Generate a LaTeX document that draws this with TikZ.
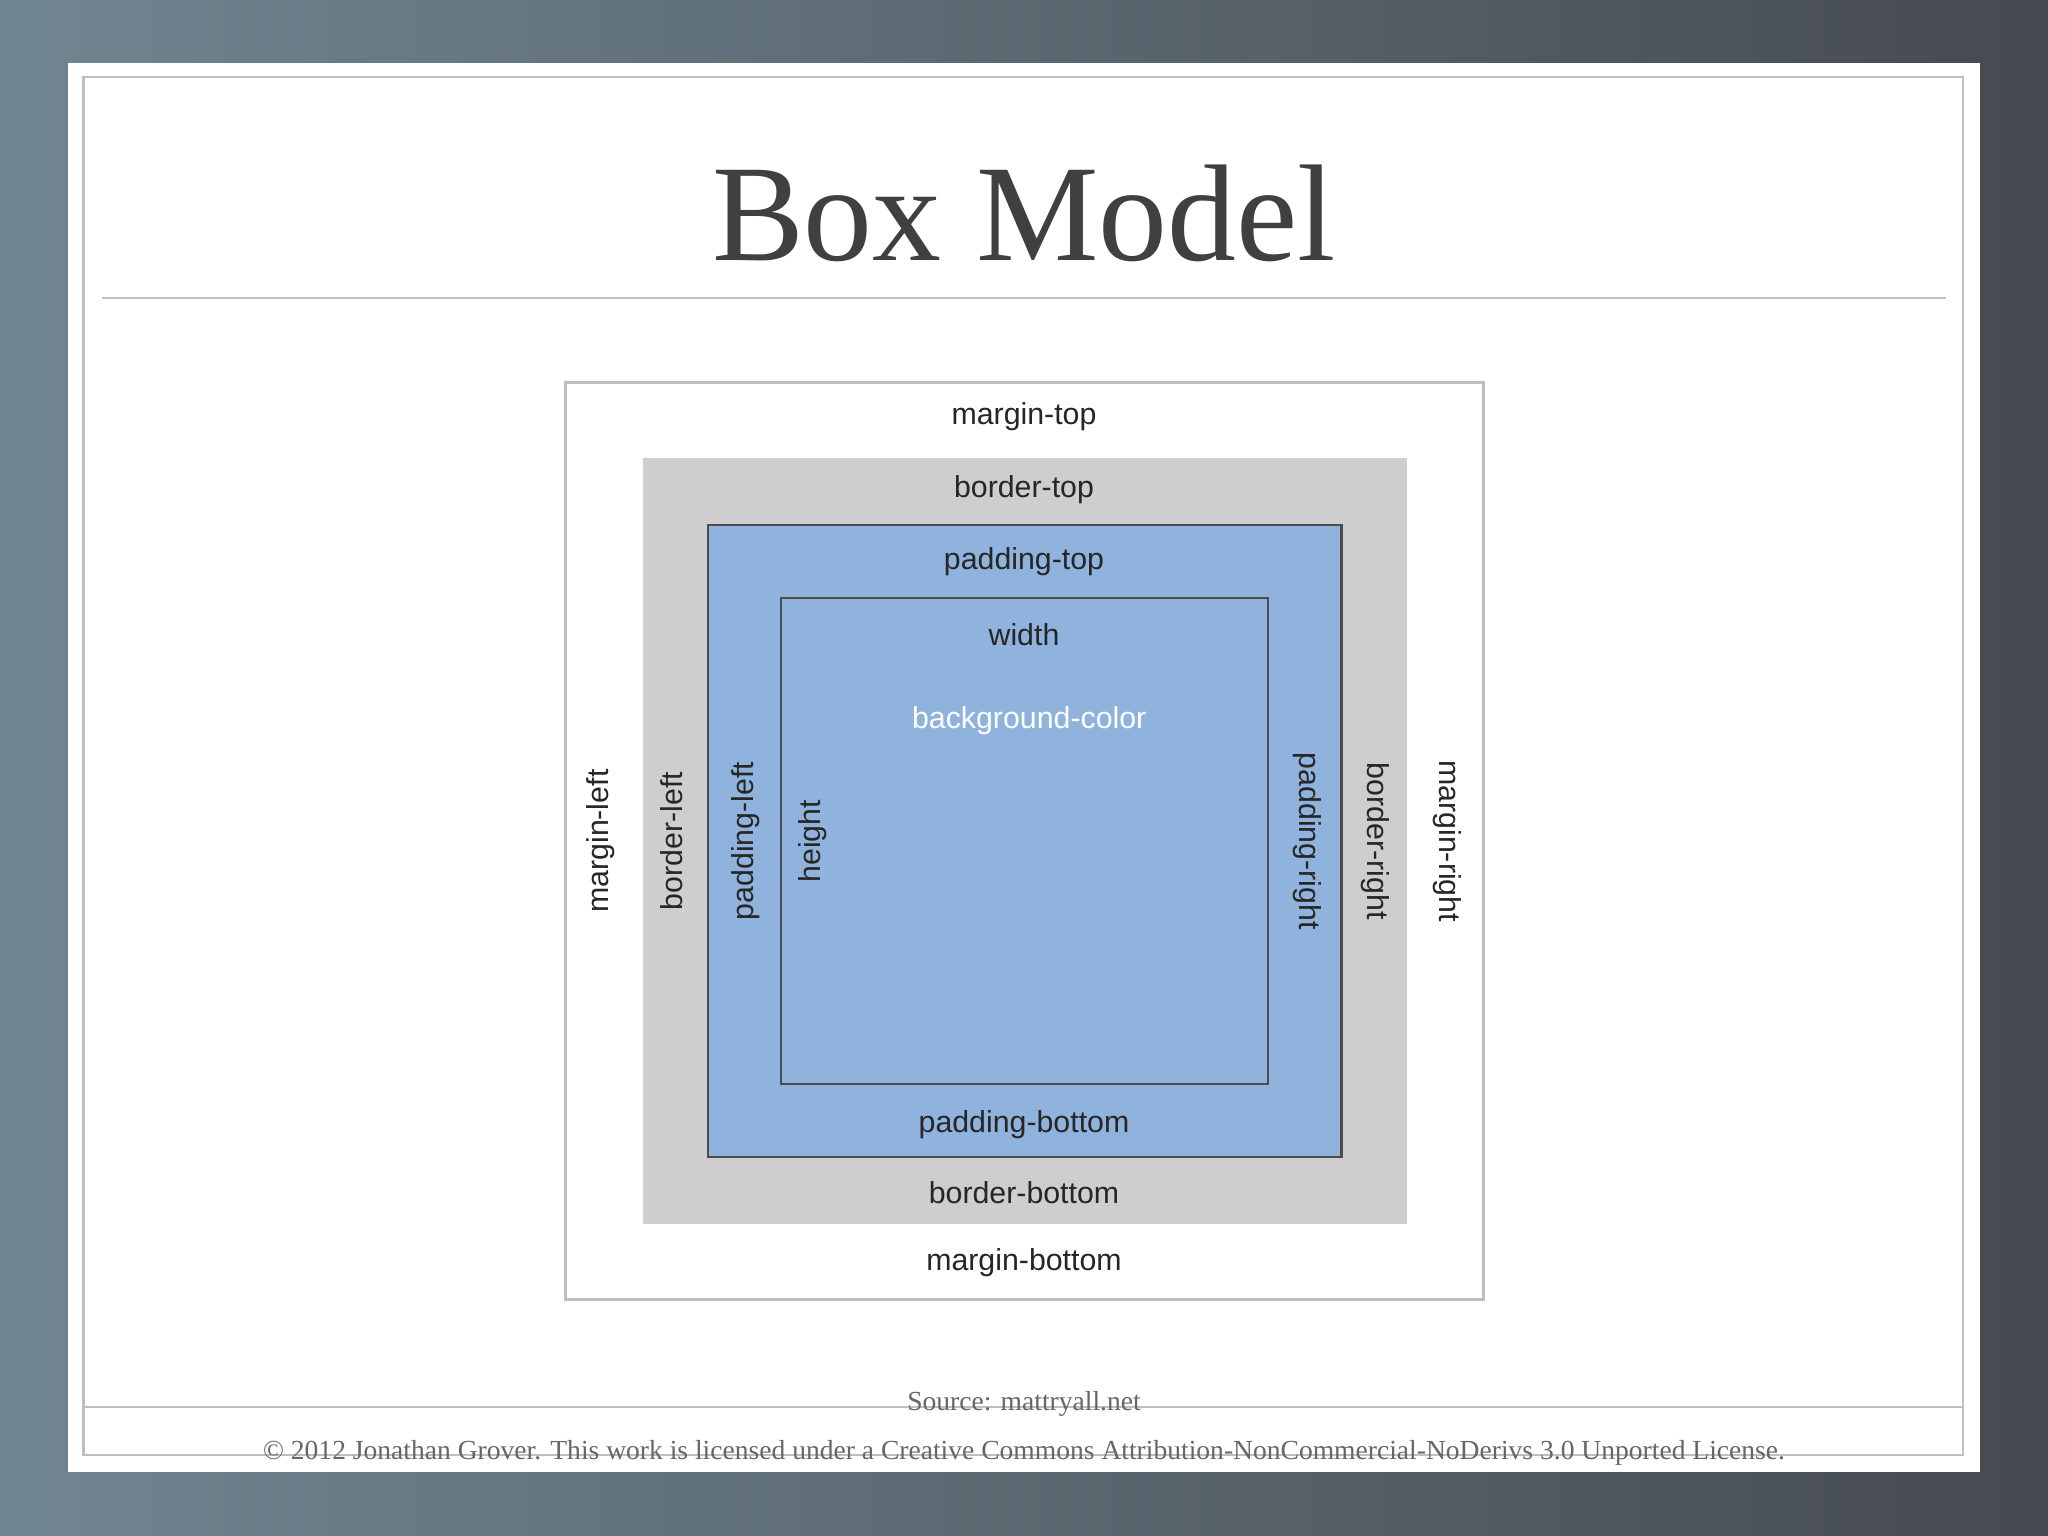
\documentclass[tikz,border=0pt]{standalone}
\usepackage{fontspec}
\setmainfont{Liberation Serif}
\setsansfont{Liberation Sans}
\definecolor{bgL}{RGB}{112,134,145}
\definecolor{bgR}{RGB}{70,74,80}
\definecolor{brd}{RGB}{207,205,207}
\definecolor{pad}{RGB}{143,179,221}
\begin{document}
\begin{tikzpicture}[x=0.01cm,y=-0.01cm,
  lbl/.style={font=\sffamily\fontsize{6.6pt}{7pt}\selectfont,text=black!85},
  foot/.style={font=\fontsize{6pt}{7pt}\selectfont,text=black!60}]
\useasboundingbox (0,0) rectangle (1568,1176);
\shade[left color=bgL,right color=bgR] (0,0) rectangle (1568,1176);
\fill[white] (52,48) rectangle (1516,1127);
\draw[black!25,line width=0.6pt] (64,59) rectangle (1503,1114);
\node[font=\fontsize{30pt}{34pt}\selectfont,text=black!75] (title) at (784,163) {Box Model};
\draw[black!25] (78,228) -- (1490,228);
\draw[black!25,fill=white,line width=0.6pt] (433,293) rectangle (1136,995);
\fill[brd] (492,351) rectangle (1077,937);
\draw[black!70,fill=pad,line width=0.5pt] (542,402) rectangle (1027,886);
\draw[black!70,fill=pad,line width=0.5pt] (598,458) rectangle (971,830);
\node[lbl] (mt) at (784,319) {margin-top};
\node[lbl] (bt) at (784,375) {border-top};
\node[lbl] (pt) at (784,430) {padding-top};
\node[lbl] (w) at (784,486) {width};
\node[lbl,text=white] (bg) at (788,552) {background-color};
\node[lbl] (pb) at (784,861) {padding-bottom};
\node[lbl] (bb) at (784,913) {border-bottom};
\node[lbl] (mb) at (784,967) {margin-bottom};
\node[lbl,rotate=90] (ml) at (460,644) {margin-left};
\node[lbl,rotate=90] (bl) at (514,644) {border-left};
\node[lbl,rotate=90] (pl) at (571,644) {padding-left};
\node[lbl,rotate=90] (h) at (622,644) {height};
\node[lbl,rotate=-90] (pr) at (1001,644) {padding-right};
\node[lbl,rotate=-90] (br) at (1053,644) {border-right};
\node[lbl,rotate=-90] (mr) at (1108,644) {margin-right};
\draw[black!25] (64,1077) -- (1503,1077);
\node[foot] (src) at (784,1075) {Source: mattryall.net};
\node[foot] (copy) at (784,1112) {\textcopyright{} 2012 Jonathan Grover. This work is licensed under a Creative Commons Attribution-NonCommercial-NoDerivs 3.0 Unported License.};
\end{tikzpicture}
\end{document}
